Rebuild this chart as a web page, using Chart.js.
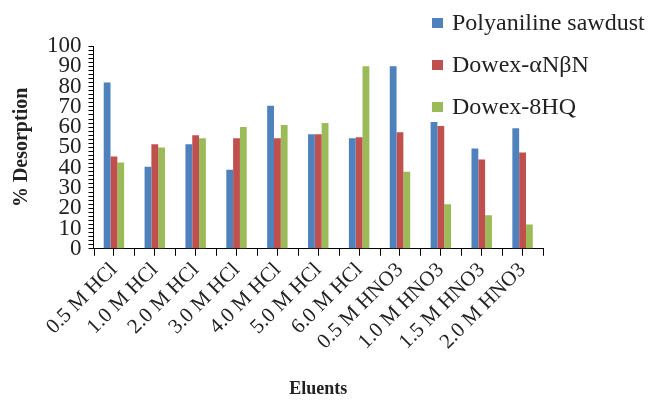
<!DOCTYPE html>
<html>
<head>
<meta charset="utf-8">
<script src="https://cdn.jsdelivr.net/npm/chart.js@4/dist/chart.umd.min.js"></script>
<style>
  html, body { margin: 0; padding: 0; background: #fff; }
  #wrap { position: relative; width: 649px; height: 400px; }
  #legend { position: absolute; left: 432px; top: 6px; font-family: "Liberation Serif", serif; font-size: 24px; color: #222; }
  #legend div { height: 42px; line-height: 32px; white-space: nowrap; }
  #legend span { display: inline-block; width: 11px; height: 10px; margin-right: 9px; vertical-align: 2px; }
</style>
</head>
<body>
<div id="wrap">
  <canvas id="myChart" width="649" height="400"></canvas>
  <div id="legend"></div>
</div>
<script>
// data
var eluents = ['0.5 M HCl', '1.0 M HCl', '2.0 M HCl', '3.0 M HCl', '4.0 M HCl', '5.0 M HCl',
  '6.0 M HCl', '0.5 M HNO3', '1.0 M HNO3', '1.5 M HNO3', '2.0 M HNO3'];
var polyanilineSawdust = [82, 40.5, 51.5, 39, 70.5, 56.5, 54.5, 90, 62.5, 49.5, 59.5];
var dowexANBN = [45.5, 51.5, 56, 54.5, 54.5, 56.5, 55, 57.5, 60.5, 44, 47.5];
var dowex8HQ = [42.5, 50, 54.5, 60, 61, 62, 90, 38, 22, 16.5, 12];
var seriesNames = ['Polyaniline sawdust', 'Dowex-\u03b1N\u03b2N', 'Dowex-8HQ'];
var colors = ['#4F81BD', '#C0504D', '#9BBB59'];

var serif = '"Liberation Serif", "Times New Roman", serif';

// tick marks between the groups, on top of the ones at the group centres
var boundaryTicks = {
  id: 'boundaryTicks',
  afterDraw: function (chart) {
    var x = chart.scales.x;
    var n = chart.data.labels.length;
    var ctx = chart.ctx;
    ctx.save();
    ctx.strokeStyle = '#000';
    ctx.lineWidth = 1;
    ctx.beginPath();
    for (var i = 0; i <= n; i++) {
      var px = Math.round(x.left + i * x.width / n) + 0.5;
      ctx.moveTo(px, x.top);
      ctx.lineTo(px, x.top + 7);
    }
    ctx.stroke();
    ctx.restore();
  }
};

var ctx = document.getElementById('myChart').getContext('2d');
new Chart(ctx, {
  type: 'bar',
  data: {
    labels: eluents,
    datasets: [
      { label: seriesNames[0], data: polyanilineSawdust, backgroundColor: colors[0] },
      { label: seriesNames[1], data: dowexANBN, backgroundColor: colors[1] },
      { label: seriesNames[2], data: dowex8HQ, backgroundColor: colors[2] }
    ]
  },
  options: {
    responsive: false,
    animation: false,
    layout: { padding: { left: 6, right: 106, top: 46, bottom: -4 } },
    datasets: { bar: { categoryPercentage: 0.5, barPercentage: 1 } },
    plugins: { legend: { display: false }, tooltip: { enabled: false } },
    scales: {
      x: {
        grid: { display: true, drawOnChartArea: false, offset: false, color: '#000', tickLength: 7 },
        border: { color: '#000', width: 1 },
        ticks: {
          color: '#222', font: { family: serif, size: 21 },
          minRotation: 45, maxRotation: 45, autoSkip: false, padding: 2
        },
        title: { display: true, text: 'Eluents', color: '#222', font: { family: serif, size: 18, weight: 'bold' }, padding: { top: 22 } }
      },
      y: {
        min: 0, max: 100,
        grid: { display: true, drawOnChartArea: false, color: '#000', tickLength: 5 },
        border: { color: '#000', width: 1 },
        ticks: {
          stepSize: 2, autoSkip: false, color: '#222', padding: 7,
          font: { family: serif, size: 23 },
          callback: function (v) { return v % 10 === 0 ? v : ''; }
        },
        title: { display: true, text: '% Desorption', color: '#222', font: { family: serif, size: 20, weight: 'bold' }, padding: { bottom: 6 } }
      }
    }
  },
  plugins: [boundaryTicks]
});

var legend = document.getElementById('legend');
seriesNames.forEach(function (name, i) {
  var row = document.createElement('div');
  var box = document.createElement('span');
  box.style.background = colors[i];
  row.appendChild(box);
  row.appendChild(document.createTextNode(name));
  legend.appendChild(row);
});
</script>
</body>
</html>
